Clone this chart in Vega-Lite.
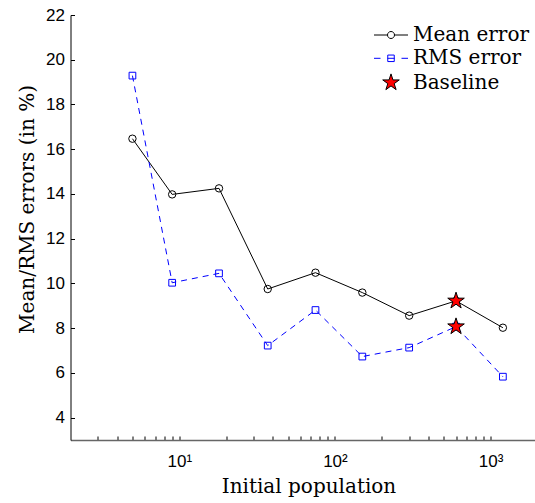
{
  "$schema": "https://vega.github.io/schema/vega-lite/v6.json",
  "width": 464.5,
  "height": 425,
  "autosize": "none",
  "padding": {"left": 70.5, "top": 15, "right": 0, "bottom": 63},
  "background": "white",
  "config": {"view": {"stroke": null}, "font": "DejaVu Serif"},
  "data": {"values": [
    {"population": 5, "series": "Mean error", "error": 16.47},
    {"population": 9, "series": "Mean error", "error": 13.98},
    {"population": 18, "series": "Mean error", "error": 14.25},
    {"population": 37, "series": "Mean error", "error": 9.75},
    {"population": 75, "series": "Mean error", "error": 10.48},
    {"population": 150, "series": "Mean error", "error": 9.59},
    {"population": 300, "series": "Mean error", "error": 8.56},
    {"population": 600, "series": "Mean error", "error": 9.22},
    {"population": 1200, "series": "Mean error", "error": 8.02},
    {"population": 5, "series": "RMS error", "error": 19.29},
    {"population": 9, "series": "RMS error", "error": 10.03},
    {"population": 18, "series": "RMS error", "error": 10.45},
    {"population": 37, "series": "RMS error", "error": 7.22},
    {"population": 75, "series": "RMS error", "error": 8.81},
    {"population": 150, "series": "RMS error", "error": 6.73},
    {"population": 300, "series": "RMS error", "error": 7.13},
    {"population": 600, "series": "RMS error", "error": 8.07},
    {"population": 1200, "series": "RMS error", "error": 5.83},
    {"population": 600, "series": "Baseline", "error": 9.22},
    {"population": 600, "series": "Baseline", "error": 8.07}
  ]},
  "encoding": {
    "x": {
      "field": "population", "type": "quantitative",
      "scale": {"type": "log", "domain": [2, 1930], "nice": false},
      "axis": {
        "title": "Initial population",
        "titleFont": "DejaVu Serif", "titleFontSize": 20, "titleFontWeight": "normal", "titleColor": "black",
        "titleBaseline": "alphabetic", "titleY": 52.7, "titleX": 238,
        "values": [3,4,5,6,7,8,9,10,20,30,40,50,60,70,80,90,100,200,300,400,500,600,700,800,900,1000],
        "labelExpr": "datum.value == 10 ? '10¹' : datum.value == 100 ? '10²' : datum.value == 1000 ? '10³' : ''",
        "labelOverlap": false, "labelFlush": false,
        "labelFont": "Liberation Sans", "labelFontSize": 17, "labelColor": "black", "labelPadding": 17,
        "grid": false, "tickSize": -4, "tickColor": "black", "tickWidth": 1,
        "domainColor": "#666666", "domainWidth": 1.5
      }
    },
    "y": {
      "field": "error", "type": "quantitative",
      "scale": {"domain": [3, 22], "nice": false, "zero": false},
      "axis": {
        "title": "Mean/RMS errors (in %)",
        "titleFont": "DejaVu Serif", "titleFontSize": 20, "titleFontWeight": "normal", "titleColor": "black",
        "titleAngle": -90, "titleBaseline": "alphabetic", "titleX": -37.5, "titleY": 194, "titleAlign": "center",
        "values": [4,6,8,10,12,14,16,18,20,22],
        "labelFont": "Liberation Sans", "labelFontSize": 17, "labelColor": "black", "labelPadding": 10,
        "grid": false, "tickSize": -4, "tickColor": "black", "tickWidth": 1,
        "domainColor": "black", "domainWidth": 1
      }
    }
  },
  "layer": [
    {
      "transform": [{"filter": "datum.series == 'Mean error'"}],
      "mark": {"type": "line", "color": "black", "strokeWidth": 1}
    },
    {
      "transform": [{"filter": "datum.series == 'RMS error'"}],
      "mark": {"type": "line", "color": "#0000ff", "strokeWidth": 1, "strokeDash": [6, 5]}
    },
    {
      "transform": [{"filter": "datum.series == 'Mean error'"}],
      "mark": {"type": "point", "shape": "circle", "size": 55, "filled": false, "color": "black", "strokeWidth": 1, "opacity": 1}
    },
    {
      "transform": [{"filter": "datum.series == 'RMS error'"}],
      "mark": {"type": "point", "shape": "square", "size": 45, "filled": false, "color": "#0000ff", "strokeWidth": 1, "opacity": 1}
    },
    {
      "transform": [{"filter": "datum.series == 'Baseline'"}],
      "mark": {"type": "point", "shape": "M0,-1L0.2245,-0.309L0.951,-0.309L0.363,0.118L0.588,0.809L0,0.382L-0.588,0.809L-0.363,0.118L-0.951,-0.309L-0.2245,-0.309Z", "size": 303, "filled": true, "fill": "#ff0000", "stroke": "black", "strokeWidth": 1, "opacity": 1}
    },
    {
      "mark": {"type": "point", "opacity": 0, "filled": true},
      "encoding": {
        "shape": {
          "field": "series", "type": "nominal",
          "scale": {
            "domain": ["Mean error", "RMS error", "Baseline"],
            "range": [
              "M-3.4,0H-0.7M0.7,0H3.4M-0.7,0A0.7,0.7,0,1,0,0.7,0A0.7,0.7,0,1,0,-0.7,0Z",
              "M-3.4,0H-2.1M2.1,0H3.4M-0.7,0H0.7M-0.65,-0.65H0.65V0.65H-0.65Z",
              "M0,-1.74L0.391,-0.538L1.655,-0.538L0.632,0.205L1.023,1.408L0,0.665L-1.023,1.408L-0.632,0.205L-1.655,-0.538L-0.391,-0.538Z"
            ]
          },
          "legend": {
            "title": null, "orient": "none", "legendX": 296, "legendY": 10, "padding": 0,
            "symbolSize": 100, "symbolStrokeWidth": 1, "symbolOpacity": 1,
            "symbolOffset": 14.5, "labelOffset": 12,
            "labelFont": "DejaVu Serif", "labelFontSize": 20, "labelColor": "black",
            "rowPadding": 3.3
          }
        },
        "stroke": {
          "field": "series", "type": "nominal",
          "scale": {"domain": ["Mean error", "RMS error", "Baseline"], "range": ["black", "#0000ff", "black"]}
        },
        "fill": {
          "field": "series", "type": "nominal",
          "scale": {"domain": ["Mean error", "RMS error", "Baseline"], "range": ["transparent", "transparent", "#ff0000"]}
        }
      }
    }
  ]
}
